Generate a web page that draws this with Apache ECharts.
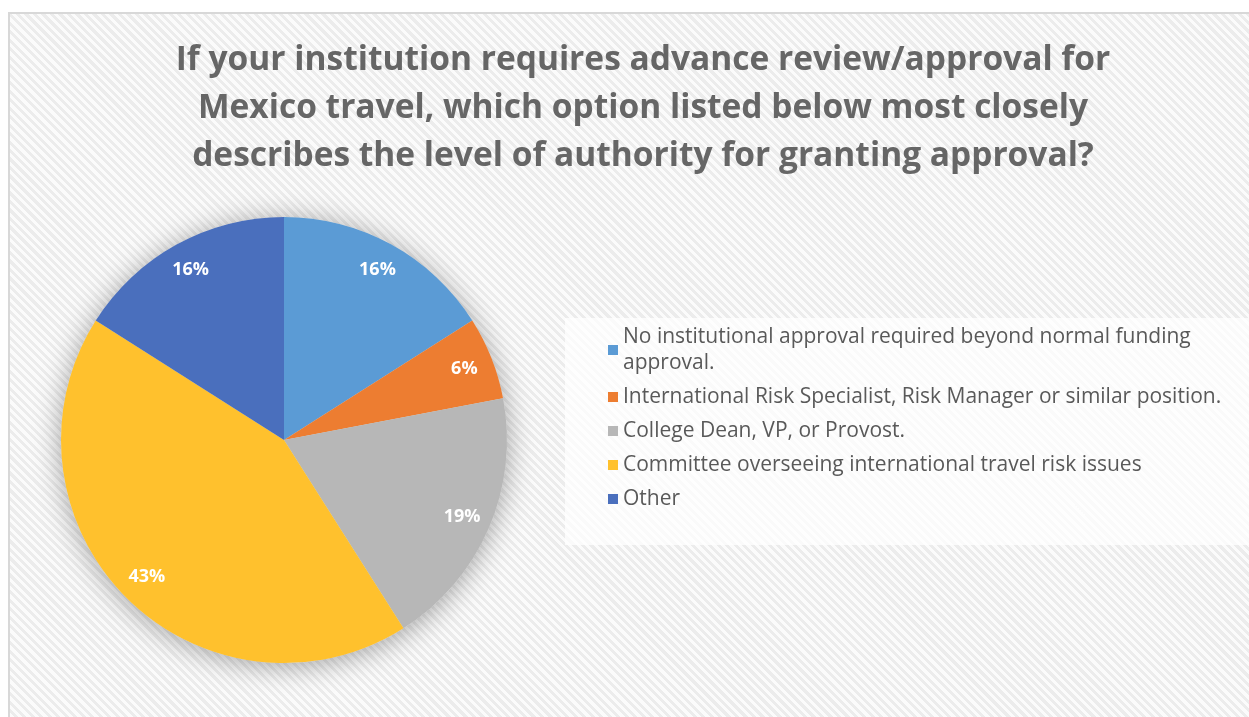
<!DOCTYPE html>
<html>
<head>
<meta charset="utf-8">
<script src="https://cdn.jsdelivr.net/npm/echarts@6/dist/echarts.min.js"></script>
<style>
  html, body { margin: 0; padding: 0; background: #fff; }
  .frame {
    position: absolute; left: 8px; top: 12px; width: 1250px; height: 720px;
    border-left: 2px solid #d8d8d8; border-top: 2px solid #d8d8d8;
    background: repeating-linear-gradient(45deg, #fbfbfb 0px, #fbfbfb 3px, #ececec 3px, #ececec 6px);
  }
  #main { position: absolute; left: 0; top: 0; width: 1249px; height: 717px; }
</style>
</head>
<body>
<div class="frame"></div>
<div id="main"></div>
<script>
// 数据
var titleText = 'If your institution requires advance review/approval for\nMexico travel, which option listed below most closely\ndescribes the level of authority for granting approval?';
var categories = [
  'No institutional approval required beyond normal funding approval.',
  'International Risk Specialist, Risk Manager or similar position.',
  'College Dean, VP, or Provost.',
  'Committee overseeing international travel risk issues',
  'Other'
];
var values = [16, 6, 19, 43, 16];
var colors = ['#5b9bd5', '#ed7d31', '#b7b7b7', '#ffc12d', '#4a6fbd'];

var myChart = echarts.init(document.getElementById('main'));

var pieData = categories.map(function (name, i) {
  return { name: name, value: values[i], itemStyle: { color: colors[i] } };
});

var option = {
  textStyle: { fontFamily: 'Open Sans' },
  title: {
    text: titleText,
    left: 638,
    top: 31,
    textAlign: 'center',
    textStyle: {
      fontFamily: 'Open Sans',
      fontSize: 33.5,
      fontWeight: 'bold',
      color: '#666666',
      lineHeight: 48
    }
  },
  graphic: [
    {
      type: 'rect',
      shape: { x: 565, y: 318, width: 690, height: 227 },
      style: { fill: 'rgba(255,255,255,0.75)' },
      z: 0
    }
  ],
  legend: {
    orient: 'vertical',
    left: 603,
    top: 319,
    icon: 'rect',
    itemWidth: 10,
    itemHeight: 10,
    itemGap: 8,
    selectedMode: false,
    data: categories,
    textStyle: {
      fontFamily: 'Open Sans',
      fontSize: 21,
      color: '#595959',
      lineHeight: 26,
      width: 625,
      overflow: 'break'
    }
  },
  series: [
    {
      // 阴影底
      type: 'pie',
      radius: [0, 223],
      center: [284, 440],
      silent: true,
      label: { show: false },
      labelLine: { show: false },
      itemStyle: {
        color: '#dddddd',
        shadowBlur: 28,
        shadowColor: 'rgba(0,0,0,0.35)',
        shadowOffsetY: 3
      },
      data: [{ value: 1, name: '' }],
      legendHoverLink: false,
      z: 1
    },
    {
      type: 'pie',
      radius: [0, 223],
      center: [284, 440],
      startAngle: 90,
      clockwise: true,
      label: { show: false },
      labelLine: { show: false },
      emphasis: { scale: false },
      data: pieData,
      z: 2
    },
    {
      // 标签
      type: 'pie',
      radius: [160, 222],
      center: [284, 440],
      startAngle: 90,
      clockwise: true,
      silent: true,
      itemStyle: { color: 'transparent' },
      label: {
        show: true,
        position: 'inside',
        formatter: '{c}%',
        color: '#ffffff',
        fontFamily: 'Open Sans',
        fontWeight: 'bold',
        fontSize: 18
      },
      labelLine: { show: false },
      data: categories.map(function (name, i) { return { name: name + ' ', value: values[i] }; }),
      z: 3
    }
  ]
};
myChart.setOption(option);
</script>
</body>
</html>
